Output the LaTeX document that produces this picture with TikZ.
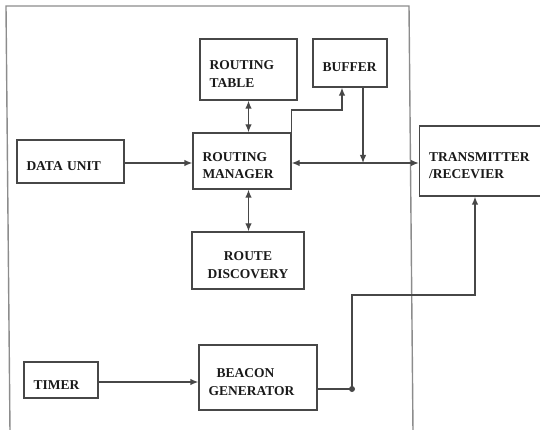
\documentclass[tikz,border=0pt]{standalone}
\usepackage{fontspec}
\setmainfont{Liberation Serif}
\usetikzlibrary{arrows.meta}
\hyphenpenalty=10000
\exhyphenpenalty=10000
\definecolor{framegray}{gray}{0.55}
\definecolor{linegray}{gray}{0.28}
\definecolor{textgray}{gray}{0.1}
\tikzset{
  block/.style 2 args={draw=linegray, line width=1.3pt, text width=#1, minimum height=#2,
    inner xsep=9.5pt, align=left, text=textgray, font=\bfseries\fontsize{13.5}{17.5}\selectfont,
    execute at begin node={\rule{0pt}{18pt}}},
  wire/.style={draw=linegray, line width=1.3pt},
  >={Latex[length=8pt,width=6.5pt]}
}
\begin{document}
\begin{tikzpicture}[x=1pt, y=-1pt]
    \useasboundingbox (0,0) rectangle (540,430);
    % 外框
    \draw[framegray, line width=1.4pt] (10,432) -- (6,6) -- (409,6) -- (413,432);

    % 各模块
    \node[block={78pt}{61pt}] (rtable) at (248.5,69.5) {ROUTING\\TABLE};
    \node[block={55pt}{48pt}] (buffer) at (350,63) {BUFFER};
    \node[block={88pt}{43pt}] (dunit) at (70.5,161.5) {DATA UNIT};
    \node[block={79pt}{56pt}] (rmanager) at (242,161) {ROUTING\\MANAGER};
    \node[block={112pt}{70pt}] (trx) at (485,161) {TRANSMITTER\\/RECEVIER};
    \node[block={93pt}{57pt}, align=center] (rdisc) at (248,260.5) {ROUTE\\DISCOVERY};
    \node[block={55pt}{36pt}] (timer) at (61,380) {TIMER};
    \node[block={99pt}{65pt}] (bgen) at (258,377.5) {\hspace*{8pt}BEACON\\GENERATOR};

    % 连接点
    \coordinate (bufin) at (342,110);
    \coordinate (junc) at (363,163);
    \coordinate (dot) at (352,389);
    \coordinate (bend) at (475,295);

    % 箭头
    \draw[wire, ->] (dunit.east |- junc) -- (rmanager.west |- junc);
    \draw[wire, <->] (rtable.south) -- (rtable.south |- rmanager.north);
    \draw[wire, <->] (rmanager.south -| rtable) -- (rdisc.north -| rtable);
    \draw[wire, ->] (rmanager.north east) |- (bufin) -- (bufin |- buffer.south);
    \draw[wire, ->] (junc |- buffer.south) -- (junc);
    \draw[wire, <->] (rmanager.east |- junc) -- (trx.west |- junc);
    \draw[wire, ->] (timer.east |- 0,382) -- (bgen.west |- 0,382);
    \draw[wire] (bgen.east |- dot) -- (dot);
    \fill[linegray] (dot) circle (3);
    \draw[wire, ->] (dot) |- (bend) -- (bend |- trx.south);
\end{tikzpicture}
\end{document}
